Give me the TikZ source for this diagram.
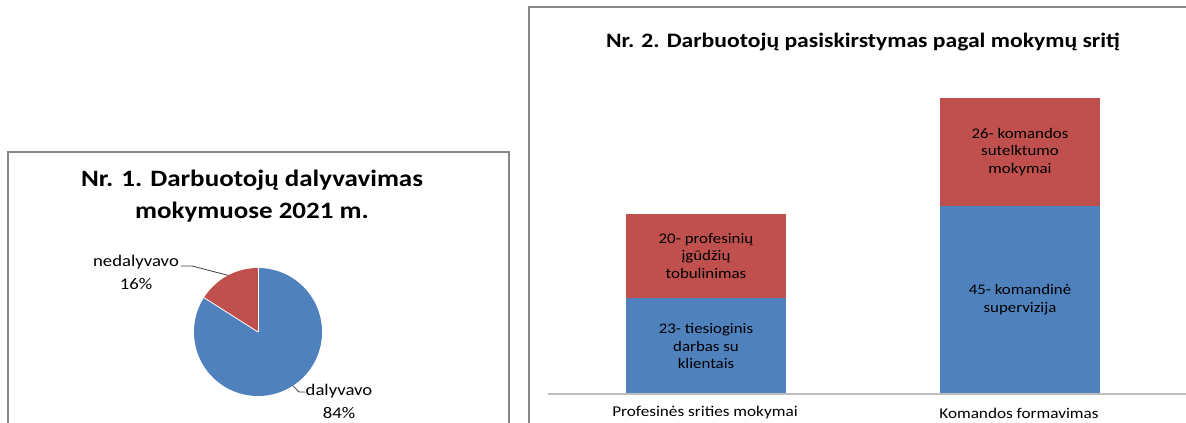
\documentclass[tikz,border=0pt]{standalone}
\usepackage{fontspec}
\setmainfont{Carlito}[FakeStretch=1.15]
\usetikzlibrary{calc}
\definecolor{pieblue}{HTML}{4F81BD}
\definecolor{piered}{HTML}{C0504D}
\definecolor{framegray}{HTML}{868686}
\definecolor{axisgray}{HTML}{BFBFBF}
\definecolor{leadergray}{HTML}{404040}
\tikzset{
  framebox/.style={draw=framegray, line width=1.1pt},
  charttitle/.style={font=\bfseries\fontsize{17.6}{24}\selectfont, align=center, inner sep=0pt},
  charttitletwo/.style={font=\bfseries\fontsize{15.4}{18}\selectfont, inner sep=0pt},
  pielabel/.style={font=\fontsize{12.2}{17.2}\selectfont, align=center, inner sep=0pt},
  barlabel/.style={font=\fontsize{11}{13.3}\selectfont, align=center},
  catlabel/.style={font=\fontsize{11.2}{13}\selectfont, inner sep=0pt},
  leader/.style={draw=leadergray, line width=0.6pt},
  barseg/.style={inner sep=0pt, outer sep=0pt, minimum width=120pt, draw=none},
}
\begin{document}
\begin{tikzpicture}[x=0.75pt, y=-0.75pt]
\useasboundingbox (0,0) rectangle (1186,423);
\fill[white] (0,0) rectangle (1186,423);
\begin{scope}
\clip (0,0) rectangle (1186,423);
% frames
\draw[framebox] (8,440) |- (509,152) -- (509,440);
\draw[framebox] (529,440) |- (1200,7);

% ---------- chart 1 ----------
\node[charttitle] (t1) at (252,196) {Nr. 1. Darbuotojų dalyvavimas\\mokymuose 2021 m.};
\coordinate (pc) at (258,332);
\fill[pieblue] (pc) -- ++(-147.6:64) arc[start angle=-147.6, end angle=-450, radius=64] -- cycle;
\fill[piered] (pc) -- ++(-90:64) arc[start angle=-90, end angle=-147.6, radius=64] -- cycle;
\draw[white, line width=0.6pt] (pc) -- ++(-90:64);
\draw[white, line width=0.6pt] (pc) -- ++(-147.6:64);

\node[pielabel] (lnd) at (136,272.5) {nedalyvavo\\16\%};
\coordinate (lnda) at (181,266);
\coordinate (lndb) at (192,266);
\coordinate (lndc) at ($(pc)+(-117.8:64)$);
\draw[leader] (lnda) -- (lndb) -- (lndc);

\node[pielabel] (ld) at (339,401.5) {dalyvavo\\84\%};
\coordinate (lda) at ($(pc)+(57:64)$);
\coordinate (ldb) at (299,392);
\coordinate (ldc) at (305,392);
\draw[leader] (lda) -- (ldb) -- (ldc);

% ---------- chart 2 ----------
\node[charttitletwo] (t2) at (863,42) {Nr. 2. Darbuotojų pasiskirstymas pagal mokymų sritį};
\coordinate (axl) at (548,394);
\coordinate (axr) at (1200,394);

\node[barseg, fill=pieblue, minimum height=72pt, anchor=south, barlabel] (b1b) at (706,394) {23- tiesioginis\\darbas su\\klientais};
\node[barseg, fill=piered, minimum height=63pt, anchor=south, barlabel] (b1r) at (b1b.north) {20- profesinių\\įgūdžių\\tobulinimas};
\node[barseg, fill=pieblue, minimum height=141pt, anchor=south, barlabel] (b2b) at (1020,394) {45- komandinė\\supervizija};
\node[barseg, fill=piered, minimum height=81pt, anchor=south, barlabel] (b2r) at (b2b.north) {26- komandos\\sutelktumo\\mokymai};

\draw[draw=axisgray, line width=1pt] (axl) -- (axr);

\node[catlabel] (c1) at (705,413) {Profesinės srities mokymai};
\node[catlabel] (c2) at (1019,413) {Komandos formavimas};
\end{scope}
\end{tikzpicture}
\end{document}
